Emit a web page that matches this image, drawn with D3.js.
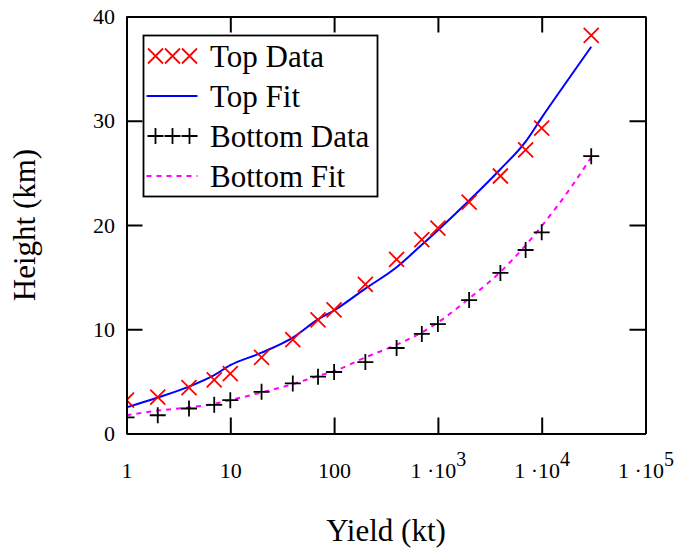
<!DOCTYPE html>
<html>
    <head>
        <meta charset="utf-8">
        <style>
            body { margin: 0; background: white; }
            text { font-family: 'Liberation Serif', 'Times New Roman', serif; fill: black; }
        </style>
    </head>
    <body>
        <div id="chart"></div>
    </body>
    <script src="https://d3js.org/d3.v7.min.js"></script>
    <script>
        // measured yields (kt) and heights (km)
        const yieldKt = [1, 2, 4, 7, 10, 20, 40, 70, 100, 200, 400, 700, 1000, 2000, 4000, 7000, 10000, 30000];
        const topData = [3.2, 3.5, 4.4, 5.15, 5.75, 7.3, 9.0, 10.9, 11.85, 14.3, 16.7, 18.6, 19.7, 22.2, 24.7, 27.2, 29.3, 38.2];
        const bottomData = [1.55, 1.75, 2.4, 2.75, 3.2, 4.0, 4.8, 5.45, 5.9, 6.85, 8.2, 9.55, 10.5, 12.8, 15.4, 17.6, 19.3, 26.6];

        // fit curves
        const fitYield = [1, 2, 4, 7, 10, 20, 40, 70, 100, 200, 400, 700, 1000, 2000, 4000, 7000, 10000, 20000, 30000];
        const topFit = [2.5, 3.45, 4.5, 5.6, 6.55, 7.75, 9.2, 10.95, 11.8, 13.9, 15.95, 18.1, 19.5, 22.35, 25.35, 28.0, 30.3, 34.6, 37.1];
        const bottomFit = [1.75, 2.2, 2.5, 2.85, 3.2, 3.93, 4.74, 5.52, 5.98, 7.3, 8.52, 9.7, 10.65, 12.95, 15.5, 18.05, 19.9, 23.88, 26.5];

        const xTicks = [1, 10, 100, 1e3, 1e4, 1e5];
        const yTicks = [0, 10, 20, 30, 40];
        const legendLabels = ['Top Data', 'Top Fit', 'Bottom Data', 'Bottom Fit'];

        const width = 674;
        const height = 549;
        const margin = { top: 16.5, right: 28.5, bottom: 115.5, left: 126.5 };

        const svg = d3.select('#chart')
            .append('svg')
            .attr('width', width)
            .attr('height', height)

        const x = d3.scaleLog()
            .domain([1, 1e5])
            .range([margin.left, width - margin.right])

        const y = d3.scaleLinear()
            .domain([0, 40])
            .range([height - margin.bottom, margin.top])

        svg.append('clipPath')
            .attr('id', 'plot-clip')
            .append('rect')
            .attr('x', margin.left)
            .attr('y', margin.top)
            .attr('width', width - margin.left - margin.right)
            .attr('height', height - margin.top - margin.bottom)

        const plot = svg.append('g').attr('clip-path', 'url(#plot-clip)')

        const line = d3.line()
            .x(d => x(d[0]))
            .y(d => y(d[1]))
            .curve(d3.curveMonotoneX)

        plot.append('path')
            .datum(fitYield.map((v, i) => [v, topFit[i]]))
            .attr('d', line)
            .attr('fill', 'none')
            .attr('stroke', '#0000ff')
            .attr('stroke-width', 2)

        plot.append('path')
            .datum(fitYield.map((v, i) => [v, bottomFit[i]]))
            .attr('d', line)
            .attr('fill', 'none')
            .attr('stroke', '#ff00ff')
            .attr('stroke-width', 2)
            .attr('stroke-dasharray', '5,5')

        const crossPath = (cx, cy, r) => `M${cx - r},${cy - r}L${cx + r},${cy + r}M${cx - r},${cy + r}L${cx + r},${cy - r}`;
        const plusPath = (cx, cy, r) => `M${cx - r},${cy}L${cx + r},${cy}M${cx},${cy - r}L${cx},${cy + r}`;

        plot.selectAll('.top-mark')
            .data(yieldKt.map((v, i) => [v, topData[i]]))
            .join('path')
            .attr('class', 'top-mark')
            .attr('d', d => crossPath(x(d[0]), y(d[1]), 7.5))
            .attr('stroke', '#ff0000')
            .attr('stroke-width', 1.8)

        plot.selectAll('.bottom-mark')
            .data(yieldKt.map((v, i) => [v, bottomData[i]]))
            .join('path')
            .attr('class', 'bottom-mark')
            .attr('d', d => plusPath(x(d[0]), y(d[1]), 8))
            .attr('stroke', 'black')
            .attr('stroke-width', 1.8)

        // axes: ticks point inward on all four sides
        const tickLen = -16;

        const xAxis = svg.append('g')
            .attr('transform', `translate(0, ${height - margin.bottom})`)
            .call(d3.axisBottom(x).tickValues(xTicks).tickSize(tickLen).tickSizeOuter(0).tickPadding(29))

        xAxis.selectAll('.tick text')
            .style('font-size', '22px')
            .each(function(d) {
                const t = d3.select(this);
                const exp = Math.round(Math.log10(d));
                t.text(null);
                if (exp < 3) {
                    t.text(String(d));
                } else {
                    t.append('tspan').text('1 \u00b710');
                    t.append('tspan').attr('dy', -12).style('font-size', '20px').text(exp);
                }
            })

        svg.append('g')
            .attr('transform', `translate(0, ${margin.top})`)
            .call(d3.axisTop(x).tickValues(xTicks).tickSize(tickLen).tickSizeOuter(0).tickFormat(''))

        svg.append('g')
            .attr('transform', `translate(${margin.left}, 0)`)
            .call(d3.axisLeft(y).tickValues(yTicks).tickSize(tickLen).tickSizeOuter(0).tickPadding(11.5))
            .selectAll('.tick text')
            .style('font-size', '22px')

        svg.append('g')
            .attr('transform', `translate(${width - margin.right}, 0)`)
            .call(d3.axisRight(y).tickValues(yTicks).tickSize(tickLen).tickSizeOuter(0).tickFormat(''))

        svg.selectAll('.domain, .tick line')
            .attr('stroke', 'black')
            .attr('stroke-width', 2)

        svg.append('text')
            .attr('x', (margin.left + width - margin.right) / 2)
            .attr('y', 541)
            .attr('text-anchor', 'middle')
            .style('font-size', '31px')
            .text('Yield (kt)')

        svg.append('text')
            .attr('transform', `translate(35, ${(margin.top + height - margin.bottom) / 2}) rotate(-90)`)
            .attr('text-anchor', 'middle')
            .style('font-size', '31px')
            .text('Height (km)')

        // legend
        const legend = svg.append('g')
            .attr('id', 'legend')
            .attr('transform', 'translate(143.5, 35.5)')

        legend.append('rect')
            .attr('width', 234)
            .attr('height', 161)
            .attr('fill', 'white')
            .attr('stroke', 'black')
            .attr('stroke-width', 1.8)

        const rowY = i => 20.5 + i * 40;
        const symX = [12, 29, 46];

        const items = legend.selectAll('.legend-item')
            .data(legendLabels)
            .join('g')
            .attr('class', 'legend-item')

        items.append('text')
            .attr('x', 66.5)
            .attr('y', (d, i) => rowY(i) + 10.5)
            .style('font-size', '31px')
            .text(d => d)

        items.filter((d, i) => i === 0)
            .selectAll('path')
            .data(symX)
            .join('path')
            .attr('d', cx => crossPath(cx, rowY(0), 7.5))
            .attr('stroke', '#ff0000')
            .attr('stroke-width', 1.8)

        items.filter((d, i) => i === 2)
            .selectAll('path')
            .data(symX)
            .join('path')
            .attr('d', cx => plusPath(cx, rowY(2), 8))
            .attr('stroke', 'black')
            .attr('stroke-width', 1.8)

        items.filter((d, i) => i === 1)
            .append('line')
            .attr('x1', 3).attr('x2', 54)
            .attr('y1', rowY(1)).attr('y2', rowY(1))
            .attr('stroke', '#0000ff')
            .attr('stroke-width', 2)

        items.filter((d, i) => i === 3)
            .append('line')
            .attr('x1', 3).attr('x2', 54)
            .attr('y1', rowY(3)).attr('y2', rowY(3))
            .attr('stroke', '#ff00ff')
            .attr('stroke-width', 2)
            .attr('stroke-dasharray', '5,5')
    </script>
</html>
